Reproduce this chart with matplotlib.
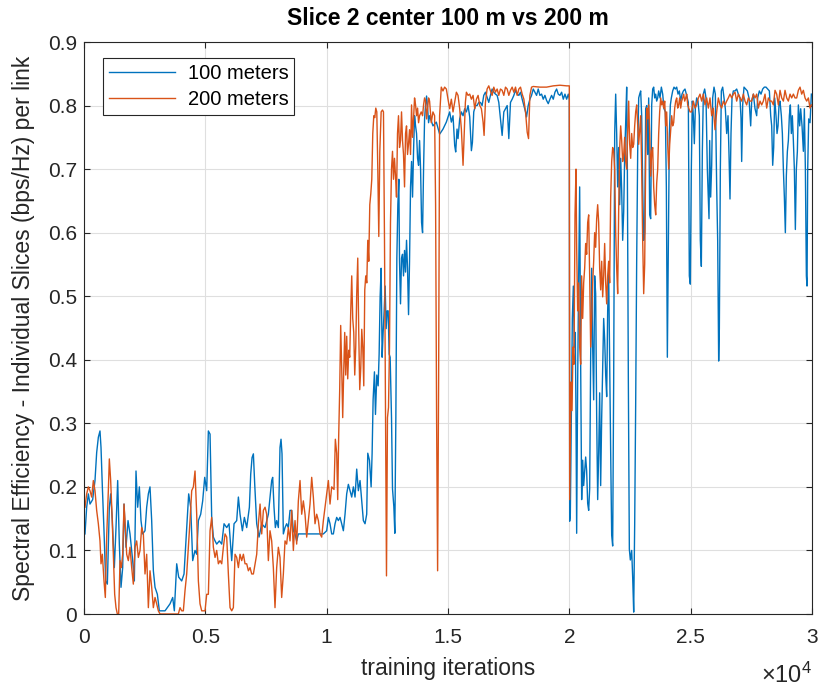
import numpy as np
import matplotlib.pyplot as plt
from matplotlib.ticker import FuncFormatter

# (iteration, spectral efficiency)
slice2_100m = [
    (41, .126), (110, .168), (179, .189), (247, .173), (357, .18), (453, .21), (522, .254), (591, .278),
    (659, .288), (701, .262), (756, .2), (824, .131), (893, .052), (962, .047), (1044, .168), (1099, .189),
    (1168, .147), (1250, .073), (1319, .136), (1388, .21), (1456, .11), (1525, .042), (1594, .073), (1649, .173),
    (1731, .105), (1814, .147), (1896, .126), (2006, .084), (2075, .052), (2143, .225), (2212, .168), (2281, .2),
    (2349, .147), (2418, .126), (2514, .131), (2583, .168), (2652, .189), (2720, .2), (2789, .147), (2858, .068),
    (2927, .042), (3023, .031), (3105, .005), (3201, .005), (3339, .005), (3435, .01), (3545, .016), (3655, .026),
    (3723, .005), (3820, .079), (3902, .058), (4026, .052), (4122, .063), (4232, .136), (4314, .189), (4397, .168),
    (4479, .084), (4575, .1), (4644, .094), (4713, .147), (4809, .157), (4891, .178), (4974, .215), (5056, .194),
    (5125, .288), (5194, .283), (5262, .152), (5331, .121), (5400, .115), (5468, .11), (5578, .115), (5675, .11),
    (5771, .142), (5881, .136), (5977, .142), (6087, .084), (6183, .142), (6293, .147), (6362, .184), (6430, .157),
    (6526, .131), (6609, .152), (6705, .136), (6815, .168), (6870, .22), (6925, .246), (6980, .252), (7035, .204),
    (7117, .142), (7213, .121), (7323, .142), (7461, .136), (7597, .157), (7665, .184), (7734, .21), (7775, .215),
    (7830, .168), (7885, .136), (7940, .147), (8009, .136), (8077, .262), (8119, .275), (8160, .252), (8215, .126),
    (8284, .136), (8352, .142), (8421, .136), (8490, .163), (8558, .163), (8627, .131), (8696, .126), (8764, .115),
    (8833, .126), (9314, .126), (9864, .126), (10001, .131), (10070, .152), (10138, .142), (10207, .126),
    (10276, .126), (10345, .142), (10413, .152), (10482, .147), (10551, .152), (10619, .142), (10688, .131),
    (10757, .157), (10825, .189), (10894, .204), (10963, .194), (11032, .184), (11100, .2), (11169, .184),
    (11238, .228), (11306, .194), (11375, .21), (11444, .178), (11512, .147), (11581, .142), (11650, .157),
    (11694, .253), (11763, .242), (11832, .2), (11873, .253), (11914, .337), (11969, .381), (12011, .314),
    (12066, .376), (12121, .359), (12162, .409), (12203, .499), (12245, .544), (12286, .404), (12327, .443),
    (12369, .477), (12410, .516), (12451, .449), (12493, .477), (12534, .477), (12575, .409), (12616, .404),
    (12672, .309), (12713, .197), (12768, .169), (12809, .127), (12851, .309), (12892, .56), (12933, .644),
    (12974, .684), (13002, .555), (13043, .488), (13085, .56), (13126, .566), (13167, .532), (13209, .572),
    (13250, .538), (13291, .588), (13332, .544), (13374, .471), (13415, .555), (13456, .672), (13498, .712),
    (13539, .656), (13580, .728), (13622, .784), (13663, .768), (13704, .756), (13746, .717), (13787, .706),
    (13828, .745), (13870, .7), (13911, .616), (13952, .6), (13993, .7), (14035, .779), (14076, .801),
    (14117, .815), (14159, .796), (14200, .773), (14241, .784), (14381, .768), (14518, .774), (14656, .755),
    (14794, .763), (14932, .774), (15000, .782), (15069, .79), (15138, .774), (15207, .784), (15276, .737),
    (15317, .727), (15372, .763), (15413, .748), (15482, .779), (15551, .79), (15620, .784), (15689, .795),
    (15758, .79), (15827, .8), (15895, .782), (15964, .729), (16006, .742), (16061, .79), (16130, .8),
    (16198, .8), (16267, .805), (16336, .805), (16405, .8), (16474, .816), (16543, .821), (16611, .813),
    (16680, .805), (16749, .816), (16818, .826), (16887, .821), (16956, .818), (17025, .816), (17093, .805),
    (17162, .779), (17231, .753), (17300, .79), (17369, .795), (17438, .8), (17506, .748), (17575, .805),
    (17644, .81), (17713, .816), (17782, .824), (17851, .818), (17920, .816), (17988, .821), (18057, .81),
    (18126, .8), (18195, .79), (18236, .782), (18305, .8), (18374, .81), (18443, .816), (18512, .826),
    (18581, .821), (18650, .816), (18718, .826), (18787, .816), (18856, .818), (18925, .81), (18994, .816),
    (19063, .808), (19131, .803), (19200, .81), (19269, .816), (19338, .81), (19407, .821), (19476, .826),
    (19544, .818), (19613, .816), (19682, .821), (19751, .81), (19820, .818), (19889, .81), (19958, .818),
    (19999, .81), (20014, .146), (20041, .158), (20082, .309), (20124, .465), (20165, .516), (20206, .42),
    (20247, .443), (20275, .309), (20302, .127), (20343, .365), (20385, .532), (20426, .672), (20467, .393),
    (20508, .18), (20550, .242), (20591, .202), (20632, .225), (20673, .247), (20714, .225), (20756, .174),
    (20797, .163), (20838, .197), (20879, .404), (20921, .544), (20962, .42), (21003, .337), (21044, .532),
    (21085, .504), (21127, .309), (21168, .18), (21209, .253), (21250, .348), (21291, .202), (21333, .309),
    (21374, .387), (21415, .465), (21456, .432), (21498, .376), (21539, .342), (21580, .477), (21621, .538),
    (21662, .393), (21704, .253), (21745, .124), (21786, .107), (21827, .365), (21869, .756), (21910, .818),
    (21951, .756), (21992, .672), (22033, .734), (22075, .644), (22116, .717), (22157, .667), (22198, .588),
    (22240, .633), (22281, .723), (22322, .773), (22363, .829), (22391, .7), (22432, .365), (22473, .102),
    (22514, .085), (22569, .1), (22611, .057), (22652, .003), (22693, .141), (22734, .331), (22775, .555),
    (22817, .728), (22858, .812), (22899, .818), (22940, .823), (22981, .784), (23023, .672), (23064, .588),
    (23105, .6), (23146, .795), (23188, .8), (23229, .723), (23270, .812), (23311, .628), (23352, .622),
    (23394, .801), (23435, .826), (23476, .829), (23517, .812), (23559, .818), (23600, .807), (23641, .812),
    (23682, .823), (23737, .812), (23792, .829), (23847, .818), (23902, .795), (23957, .79), (23998, .672),
    (24039, .404), (24081, .588), (24122, .756), (24163, .801), (24204, .812), (24259, .823), (24314, .829),
    (24369, .826), (24424, .829), (24479, .818), (24534, .823), (24589, .807), (24644, .818), (24699, .823),
    (24766, .826), (24835, .816), (24904, .805), (24945, .532), (24986, .519), (25027, .7), (25069, .807),
    (25110, .784), (25151, .74), (25192, .795), (25247, .812), (25302, .807), (25357, .784), (25398, .588),
    (25440, .547), (25481, .728), (25522, .818), (25577, .826), (25632, .812), (25687, .7), (25728, .656),
    (25756, .622), (25783, .745), (25824, .656), (25866, .706), (25907, .812), (25962, .829), (26017, .818),
    (26072, .672), (26113, .588), (26154, .398), (26182, .449), (26223, .7), (26264, .823), (26319, .829),
    (26374, .812), (26429, .795), (26484, .756), (26539, .784), (26580, .723), (26621, .653), (26662, .756),
    (26704, .812), (26759, .823), (26827, .823), (26896, .826), (26965, .818), (27033, .812), (27075, .78),
    (27102, .712), (27143, .801), (27198, .829), (27267, .826), (27336, .823), (27404, .812), (27473, .768),
    (27514, .807), (27583, .818), (27652, .795), (27720, .784), (27761, .812), (27830, .823), (27899, .818),
    (27968, .826), (28036, .829), (28105, .829), (28174, .826), (28243, .823), (28298, .784), (28339, .768),
    (28380, .706), (28421, .734), (28462, .812), (28517, .784), (28559, .756), (28600, .768), (28641, .801),
    (28682, .807), (28737, .784), (28779, .756), (28820, .7), (28861, .656), (28902, .6), (28943, .69),
    (28985, .728), (29026, .745), (29067, .784), (29108, .801), (29149, .756), (29190, .784), (29232, .745),
    (29273, .7), (29314, .605), (29355, .7), (29397, .728), (29438, .801), (29493, .768), (29534, .795),
    (29589, .768), (29644, .728), (29685, .795), (29727, .7), (29768, .532), (29795, .516), (29823, .7),
    (29864, .779), (29919, .773), (29974, .818),
]

slice2_200m = [
    (41, .168), (110, .189), (179, .2), (247, .194), (316, .184), (385, .21), (453, .194), (522, .163),
    (591, .142), (659, .115), (701, .079), (756, .094), (824, .052), (879, .026), (934, .121), (1003, .194),
    (1044, .244), (1099, .21), (1154, .157), (1209, .094), (1264, .031), (1319, .01), (1374, 0.0), (1429, 0.0),
    (1484, .084), (1539, .073), (1594, .094), (1649, .173), (1704, .136), (1759, .094), (1827, .084), (1896, .105),
    (1965, .073), (2033, .047), (2102, .105), (2171, .115), (2240, .089), (2308, .1), (2377, .136), (2446, .126),
    (2514, .063), (2583, .094), (2652, .01), (2720, .068), (2789, .042), (2858, .01), (2927, .026), (2995, .016),
    (3064, .005), (3133, 0.0), (3407, 0.0), (3682, 0.0), (3888, 0.0), (3957, .01), (4026, .005), (4094, .005),
    (4163, .037), (4232, .063), (4300, .105), (4369, .147), (4438, .194), (4507, .2), (4575, .225), (4644, .157),
    (4713, .052), (4781, .016), (4850, .005), (4988, .005), (5056, .031), (5125, .031), (5194, .131), (5262, .152),
    (5331, .105), (5400, .089), (5468, .1), (5537, .079), (5606, .084), (5675, .079), (5743, .105), (5812, .126),
    (5881, .121), (5949, .063), (6018, .01), (6087, .005), (6155, .01), (6224, .094), (6293, .089), (6362, .073),
    (6430, .094), (6499, .084), (6568, .094), (6636, .079), (6705, .079), (6774, .068), (6842, .073), (6911, .063),
    (6980, .063), (7049, .079), (7117, .094), (7186, .142), (7255, .173), (7323, .126), (7392, .163), (7461, .168),
    (7528, .157), (7597, .084), (7665, .131), (7734, .115), (7803, .073), (7871, .01), (7940, .073), (8009, .105),
    (8077, .089), (8146, .026), (8215, .063), (8284, .115), (8352, .11), (8421, .136), (8490, .115), (8558, .163),
    (8627, .1), (8696, .147), (8764, .11), (8833, .178), (8902, .21), (8971, .157), (9039, .178), (9108, .157),
    (9177, .121), (9245, .147), (9314, .173), (9383, .215), (9451, .184), (9520, .142), (9589, .157), (9658, .147),
    (9726, .126), (9795, .121), (9864, .147), (9932, .168), (10001, .189), (10070, .21), (10138, .173),
    (10207, .2), (10303, .196), (10358, .275), (10413, .253), (10455, .18), (10496, .281), (10537, .353),
    (10578, .454), (10620, .387), (10661, .309), (10702, .381), (10744, .443), (10785, .376), (10826, .437),
    (10868, .37), (10909, .415), (10950, .404), (10992, .477), (11033, .532), (11074, .465), (11116, .443),
    (11157, .376), (11198, .42), (11239, .504), (11281, .56), (11322, .443), (11363, .353), (11405, .387),
    (11446, .448), (11487, .42), (11529, .359), (11570, .51), (11611, .532), (11653, .521), (11694, .588),
    (11735, .555), (11777, .644), (11818, .661), (11859, .684), (11900, .756), (11942, .784), (11983, .781),
    (12024, .796), (12066, .79), (12107, .7), (12148, .594), (12190, .728), (12245, .79), (12300, .793),
    (12341, .79), (12383, .588), (12424, .309), (12465, .06), (12506, .309), (12548, .325), (12589, .42),
    (12630, .616), (12672, .7), (12713, .728), (12754, .684), (12795, .717), (12837, .689), (12878, .656),
    (12919, .756), (12960, .784), (13002, .734), (13043, .745), (13085, .79), (13126, .745), (13167, .723),
    (13209, .672), (13250, .756), (13291, .768), (13332, .723), (13374, .74), (13415, .762), (13456, .723),
    (13498, .801), (13539, .75), (13580, .779), (13622, .812), (13663, .801), (13704, .784), (13746, .796),
    (13787, .773), (13828, .784), (13897, .79), (13952, .784), (13993, .801), (14035, .812), (14076, .807),
    (14117, .779), (14159, .796), (14200, .812), (14241, .807), (14310, .773), (14379, .79), (14448, .784),
    (14489, .644), (14530, .309), (14572, .068), (14613, .365), (14654, .784), (14723, .829), (14792, .823),
    (14861, .829), (14932, .826), (15000, .81), (15069, .795), (15138, .81), (15207, .79), (15276, .805),
    (15345, .821), (15413, .816), (15482, .795), (15551, .763), (15620, .706), (15661, .748), (15716, .805),
    (15758, .821), (15827, .816), (15895, .818), (15964, .81), (16033, .816), (16102, .795), (16171, .81),
    (16240, .816), (16309, .8), (16377, .795), (16446, .774), (16487, .753), (16542, .805), (16611, .826),
    (16680, .831), (16749, .823), (16818, .816), (16887, .829), (16956, .821), (17025, .826), (17093, .816),
    (17162, .826), (17231, .824), (17300, .816), (17369, .829), (17438, .826), (17506, .816), (17575, .824),
    (17644, .829), (17713, .821), (17782, .829), (17851, .816), (17920, .826), (17988, .829), (18057, .818),
    (18126, .81), (18195, .79), (18264, .758), (18319, .748), (18374, .816), (18443, .829), (18512, .83),
    (18787, .829), (19063, .829), (19338, .831), (19613, .832), (19889, .831), (19999, .831), (20014, .18),
    (20069, .365), (20110, .32), (20151, .42), (20192, .393), (20234, .628), (20275, .7), (20302, .577),
    (20343, .477), (20385, .521), (20426, .42), (20467, .393), (20508, .532), (20550, .465), (20591, .521),
    (20632, .544), (20673, .583), (20714, .566), (20756, .616), (20797, .628), (20838, .532), (20879, .42),
    (20921, .465), (20962, .521), (21003, .555), (21044, .6), (21085, .577), (21127, .622), (21168, .644),
    (21209, .616), (21250, .544), (21291, .51), (21333, .555), (21374, .499), (21415, .532), (21456, .583),
    (21498, .521), (21539, .488), (21580, .532), (21621, .555), (21662, .521), (21704, .656), (21745, .712),
    (21786, .734), (21827, .728), (21869, .7), (21910, .6), (21951, .544), (21992, .504), (22033, .633),
    (22075, .734), (22116, .768), (22157, .745), (22198, .712), (22240, .723), (22281, .75), (22322, .712),
    (22363, .7), (22404, .756), (22446, .807), (22487, .739), (22528, .717), (22569, .756), (22611, .734),
    (22652, .739), (22693, .768), (22734, .79), (22775, .801), (22817, .768), (22858, .739), (22899, .762),
    (22940, .784), (22981, .7), (23023, .588), (23064, .504), (23105, .55), (23146, .712), (23188, .796),
    (23229, .779), (23270, .801), (23311, .756), (23352, .689), (23394, .728), (23435, .734), (23476, .672),
    (23517, .644), (23559, .628), (23600, .678), (23641, .7), (23682, .756), (23723, .79), (23765, .812),
    (23806, .801), (23847, .807), (23888, .796), (23930, .807), (23971, .768), (24012, .79), (24053, .739),
    (24094, .7), (24136, .739), (24177, .762), (24218, .784), (24259, .768), (24300, .773), (24342, .796),
    (24383, .807), (24424, .812), (24465, .796), (24506, .801), (24548, .812), (24589, .796), (24630, .807),
    (24671, .812), (24713, .818), (24754, .807), (24795, .812), (24836, .818), (24878, .801), (24919, .796),
    (24974, .79), (25041, .79), (25110, .807), (25179, .796), (25247, .801), (25316, .812), (25385, .818),
    (25453, .807), (25522, .818), (25591, .801), (25659, .812), (25728, .796), (25797, .812), (25866, .784),
    (25934, .796), (26003, .762), (26072, .79), (26140, .812), (26209, .801), (26278, .796), (26346, .807),
    (26415, .801), (26484, .807), (26552, .812), (26621, .818), (26690, .812), (26759, .818), (26827, .821),
    (26896, .807), (26965, .818), (27033, .812), (27102, .807), (27171, .818), (27239, .807), (27308, .801),
    (27377, .812), (27445, .807), (27514, .807), (27583, .818), (27652, .812), (27720, .818), (27789, .796),
    (27858, .807), (27927, .801), (27995, .807), (28064, .818), (28133, .796), (28201, .812), (28270, .807),
    (28339, .807), (28407, .801), (28476, .824), (28545, .818), (28613, .801), (28682, .824), (28751, .812),
    (28820, .807), (28888, .824), (28957, .812), (29026, .807), (29095, .818), (29163, .812), (29232, .818),
    (29301, .812), (29369, .812), (29438, .824), (29507, .829), (29575, .818), (29644, .824), (29713, .812),
    (29781, .807), (29850, .812), (29919, .796), (29974, .801),
]

series_labels = ["100 meters", "200 meters"]
y_ticks = [0, 0.1, 0.2, 0.3, 0.4, 0.5, 0.6, 0.7, 0.8, 0.9]
x_ticks = [0, 5000, 10000, 15000, 20000, 25000, 30000]

plt.rcParams['font.family'] = ['Liberation Sans', 'DejaVu Sans']
plt.rcParams['mathtext.default'] = 'regular'
dark = '#262626'

fig = plt.figure(figsize=(8.19, 6.89), dpi=100)
ax = fig.add_axes([84/819, 1 - 614/689, 728/819, 572/689])

x1, y1 = np.array(slice2_100m).T
x2, y2 = np.array(slice2_200m).T
ax.plot(x1, y1, color='#0072BD', lw=1.0, label=series_labels[0])
ax.plot(x2, y2, color='#D95319', lw=1.0, label=series_labels[1])

ax.set_xlim(0, 30000)
ax.set_ylim(0, 0.9)
ax.set_xticks(x_ticks)
ax.set_yticks(y_ticks)
ax.xaxis.set_major_formatter(FuncFormatter(lambda v, p: f"{v/1e4:g}"))
ax.yaxis.set_major_formatter(FuncFormatter(lambda v, p: f"{v:g}"))
ax.grid(True, color='#dfdfdf', lw=0.8)
ax.set_axisbelow(True)
ax.tick_params(direction='in', length=4, width=0.8, colors=dark, labelsize=15,
               top=True, right=True, labelcolor=dark)
ax.tick_params(axis='x', pad=10)
ax.tick_params(axis='y', pad=5)
for s in ax.spines.values():
    s.set_color(dark)
    s.set_linewidth(0.8)

ax.set_xlabel("training iterations", fontsize=16.5, color=dark, labelpad=7)
ax.set_ylabel("Spectral Efficiency - Individual Slices (bps/Hz) per link", fontsize=16.5, color=dark, labelpad=9)
ax.set_title("Slice 2 center 100 m vs 200 m", fontsize=16.5, fontweight='bold', pad=12)
ax.text(1.0, -0.085, r'$\times10^{4}$', transform=ax.transAxes, ha='right', va='top', fontsize=17, color=dark)

leg = ax.legend(loc='upper left', bbox_to_anchor=(0.026, 0.972), borderaxespad=0, fontsize=14.5,
                handlelength=3.3, handletextpad=0.6, borderpad=0.3, labelspacing=0.35,
                fancybox=False, framealpha=1, edgecolor=dark)
leg.get_frame().set_linewidth(0.8)

fig.savefig("out.png", dpi=100)
